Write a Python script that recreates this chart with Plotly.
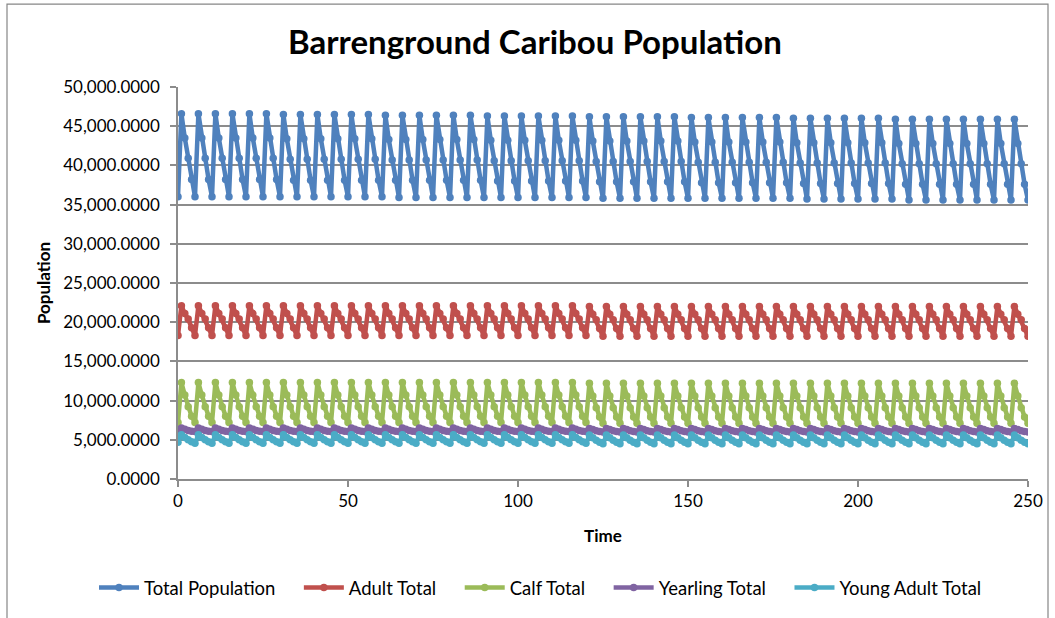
import plotly.graph_objects as go

# ---------------- data ----------------
time = list(range(0, 251))

total_population = [
    36000,
    46600, 43500, 40900, 38200, 36000,  46600, 43500, 40900, 38200, 36000,
    46600, 43500, 40900, 38200, 36000,  46600, 43500, 40900, 38200, 36000,
    46600, 43500, 40900, 38200, 36000,  46600, 43500, 40900, 38200, 36000,
    46500, 43400, 40800, 38100, 36000,  46500, 43400, 40800, 38100, 36000,
    46500, 43400, 40800, 38100, 36000,  46500, 43400, 40800, 38100, 36000,
    46500, 43400, 40800, 38100, 36000,  46500, 43400, 40800, 38100, 36000,
    46400, 43300, 40700, 38100, 35900,  46400, 43300, 40700, 38100, 35900,
    46400, 43300, 40700, 38100, 35900,  46400, 43300, 40700, 38100, 35900,
    46400, 43300, 40700, 38100, 35900,  46400, 43300, 40700, 38100, 35900,
    46300, 43200, 40600, 38000, 35900,  46300, 43200, 40600, 38000, 35900,
    46300, 43200, 40600, 38000, 35900,  46300, 43200, 40600, 38000, 35900,
    46300, 43200, 40600, 38000, 35900,  46300, 43200, 40600, 38000, 35900,
    46200, 43100, 40500, 37900, 35800,  46200, 43100, 40500, 37900, 35800,
    46200, 43100, 40500, 37900, 35800,  46200, 43100, 40500, 37900, 35800,
    46200, 43100, 40500, 37900, 35800,  46200, 43100, 40500, 37900, 35800,
    46100, 43000, 40400, 37800, 35800,  46100, 43000, 40400, 37800, 35800,
    46100, 43000, 40400, 37800, 35800,  46100, 43000, 40400, 37800, 35800,
    46100, 43000, 40400, 37800, 35800,  46100, 43000, 40400, 37800, 35800,
    46000, 42900, 40300, 37700, 35700,  46000, 42900, 40300, 37700, 35700,
    46000, 42900, 40300, 37700, 35700,  46000, 42900, 40300, 37700, 35700,
    46000, 42900, 40300, 37700, 35700,  46000, 42900, 40300, 37700, 35700,
    45900, 42800, 40200, 37600, 35600,  45900, 42800, 40200, 37600, 35600,
    45900, 42800, 40200, 37600, 35600,  45900, 42800, 40200, 37600, 35600,
    45900, 42800, 40200, 37600, 35600,  45900, 42800, 40200, 37600, 35600,
    45900, 42800, 40200, 37600, 35600,  45900, 42800, 40200, 37600, 35600,
]

adult_total = [
    18300,
    22100, 21100, 20400, 19300, 18300,  22100, 21100, 20400, 19300, 18300,
    22100, 21100, 20400, 19300, 18300,  22100, 21100, 20400, 19300, 18300,
    22100, 21100, 20400, 19300, 18300,  22100, 21100, 20400, 19300, 18300,
    22100, 21100, 20400, 19300, 18300,  22100, 21100, 20400, 19300, 18300,
    22100, 21100, 20400, 19300, 18300,  22100, 21100, 20400, 19300, 18300,
    22100, 21100, 20400, 19300, 18300,  22100, 21100, 20400, 19300, 18300,
    22100, 21100, 20400, 19300, 18300,  22100, 21100, 20400, 19300, 18300,
    22100, 21100, 20400, 19300, 18300,  22100, 21100, 20400, 19300, 18300,
    22100, 21100, 20400, 19300, 18300,  22100, 21100, 20400, 19300, 18300,
    22100, 21100, 20400, 19300, 18300,  22100, 21100, 20400, 19300, 18300,
    22100, 21100, 20400, 19300, 18300,  22100, 21100, 20400, 19300, 18300,
    22100, 21100, 20400, 19300, 18300,  22100, 21100, 20400, 19300, 18300,
    22000, 21000, 20300, 19200, 18200,  22000, 21000, 20300, 19200, 18200,
    22000, 21000, 20300, 19200, 18200,  22000, 21000, 20300, 19200, 18200,
    22000, 21000, 20300, 19200, 18200,  22000, 21000, 20300, 19200, 18200,
    22000, 21000, 20300, 19200, 18200,  22000, 21000, 20300, 19200, 18200,
    22000, 21000, 20300, 19200, 18200,  22000, 21000, 20300, 19200, 18200,
    22000, 21000, 20300, 19200, 18200,  22000, 21000, 20300, 19200, 18200,
    22000, 21000, 20300, 19200, 18200,  22000, 21000, 20300, 19200, 18200,
    22000, 21000, 20300, 19200, 18200,  22000, 21000, 20300, 19200, 18200,
    22000, 21000, 20300, 19200, 18200,  22000, 21000, 20300, 19200, 18200,
    22000, 21000, 20300, 19200, 18200,  22000, 21000, 20300, 19200, 18200,
    22000, 21000, 20300, 19200, 18200,  22000, 21000, 20300, 19200, 18200,
    22000, 21000, 20300, 19200, 18200,  22000, 21000, 20300, 19200, 18200,
    22000, 21000, 20300, 19200, 18200,  22000, 21000, 20300, 19200, 18200,
]

calf_total = [
    7200,
    12300, 10700, 9200, 8000, 7200,  12300, 10700, 9200, 8000, 7200,
    12300, 10700, 9200, 8000, 7200,  12300, 10700, 9200, 8000, 7200,
    12300, 10700, 9200, 8000, 7200,  12300, 10700, 9200, 8000, 7200,
    12300, 10700, 9200, 8000, 7200,  12300, 10700, 9200, 8000, 7200,
    12300, 10700, 9200, 8000, 7200,  12300, 10700, 9200, 8000, 7200,
    12300, 10700, 9200, 8000, 7200,  12300, 10700, 9200, 8000, 7200,
    12300, 10700, 9200, 8000, 7200,  12300, 10700, 9200, 8000, 7200,
    12300, 10700, 9200, 8000, 7200,  12300, 10700, 9200, 8000, 7200,
    12300, 10700, 9200, 8000, 7200,  12300, 10700, 9200, 8000, 7200,
    12300, 10700, 9200, 8000, 7200,  12300, 10700, 9200, 8000, 7200,
    12300, 10700, 9200, 8000, 7200,  12300, 10700, 9200, 8000, 7200,
    12300, 10700, 9200, 8000, 7200,  12300, 10700, 9200, 8000, 7200,
    12200, 10600, 9100, 7900, 7100,  12200, 10600, 9100, 7900, 7100,
    12200, 10600, 9100, 7900, 7100,  12200, 10600, 9100, 7900, 7100,
    12200, 10600, 9100, 7900, 7100,  12200, 10600, 9100, 7900, 7100,
    12200, 10600, 9100, 7900, 7100,  12200, 10600, 9100, 7900, 7100,
    12200, 10600, 9100, 7900, 7100,  12200, 10600, 9100, 7900, 7100,
    12200, 10600, 9100, 7900, 7100,  12200, 10600, 9100, 7900, 7100,
    12200, 10600, 9100, 7900, 7100,  12200, 10600, 9100, 7900, 7100,
    12200, 10600, 9100, 7900, 7100,  12200, 10600, 9100, 7900, 7100,
    12200, 10600, 9100, 7900, 7100,  12200, 10600, 9100, 7900, 7100,
    12200, 10600, 9100, 7900, 7100,  12200, 10600, 9100, 7900, 7100,
    12200, 10600, 9100, 7900, 7100,  12200, 10600, 9100, 7900, 7100,
    12200, 10600, 9100, 7900, 7100,  12200, 10600, 9100, 7900, 7100,
    12200, 10600, 9100, 7900, 7100,  12200, 10600, 9100, 7900, 7100,
]

yearling_total = [
    6100,
    6500, 6350, 6200, 6100, 6050,  6500, 6350, 6200, 6100, 6050,
    6500, 6350, 6200, 6100, 6050,  6500, 6350, 6200, 6100, 6050,
    6500, 6350, 6200, 6100, 6050,  6500, 6350, 6200, 6100, 6050,
    6500, 6350, 6200, 6100, 6050,  6500, 6350, 6200, 6100, 6050,
    6500, 6350, 6200, 6100, 6050,  6500, 6350, 6200, 6100, 6050,
    6500, 6350, 6200, 6100, 6050,  6500, 6350, 6200, 6100, 6050,
    6500, 6350, 6200, 6100, 6050,  6500, 6350, 6200, 6100, 6050,
    6500, 6350, 6200, 6100, 6050,  6500, 6350, 6200, 6100, 6050,
    6500, 6350, 6200, 6100, 6050,  6500, 6350, 6200, 6100, 6050,
    6500, 6350, 6200, 6100, 6050,  6500, 6350, 6200, 6100, 6050,
    6500, 6350, 6200, 6100, 6050,  6500, 6350, 6200, 6100, 6050,
    6500, 6350, 6200, 6100, 6050,  6500, 6350, 6200, 6100, 6050,
    6450, 6300, 6150, 6050, 6000,  6450, 6300, 6150, 6050, 6000,
    6450, 6300, 6150, 6050, 6000,  6450, 6300, 6150, 6050, 6000,
    6450, 6300, 6150, 6050, 6000,  6450, 6300, 6150, 6050, 6000,
    6450, 6300, 6150, 6050, 6000,  6450, 6300, 6150, 6050, 6000,
    6450, 6300, 6150, 6050, 6000,  6450, 6300, 6150, 6050, 6000,
    6450, 6300, 6150, 6050, 6000,  6450, 6300, 6150, 6050, 6000,
    6450, 6300, 6150, 6050, 6000,  6450, 6300, 6150, 6050, 6000,
    6450, 6300, 6150, 6050, 6000,  6450, 6300, 6150, 6050, 6000,
    6450, 6300, 6150, 6050, 6000,  6450, 6300, 6150, 6050, 6000,
    6450, 6300, 6150, 6050, 6000,  6450, 6300, 6150, 6050, 6000,
    6450, 6300, 6150, 6050, 6000,  6450, 6300, 6150, 6050, 6000,
    6450, 6300, 6150, 6050, 6000,  6450, 6300, 6150, 6050, 6000,
    6450, 6300, 6150, 6050, 6000,  6450, 6300, 6150, 6050, 6000,
]

young_adult_total = [
    4700,
    5650, 5300, 5000, 4750, 4550,  5650, 5300, 5000, 4750, 4550,
    5650, 5300, 5000, 4750, 4550,  5650, 5300, 5000, 4750, 4550,
    5650, 5300, 5000, 4750, 4550,  5650, 5300, 5000, 4750, 4550,
    5650, 5300, 5000, 4750, 4550,  5650, 5300, 5000, 4750, 4550,
    5650, 5300, 5000, 4750, 4550,  5650, 5300, 5000, 4750, 4550,
    5650, 5300, 5000, 4750, 4550,  5650, 5300, 5000, 4750, 4550,
    5650, 5300, 5000, 4750, 4550,  5650, 5300, 5000, 4750, 4550,
    5650, 5300, 5000, 4750, 4550,  5650, 5300, 5000, 4750, 4550,
    5650, 5300, 5000, 4750, 4550,  5650, 5300, 5000, 4750, 4550,
    5650, 5300, 5000, 4750, 4550,  5650, 5300, 5000, 4750, 4550,
    5650, 5300, 5000, 4750, 4550,  5650, 5300, 5000, 4750, 4550,
    5650, 5300, 5000, 4750, 4550,  5650, 5300, 5000, 4750, 4550,
    5600, 5250, 4950, 4700, 4500,  5600, 5250, 4950, 4700, 4500,
    5600, 5250, 4950, 4700, 4500,  5600, 5250, 4950, 4700, 4500,
    5600, 5250, 4950, 4700, 4500,  5600, 5250, 4950, 4700, 4500,
    5600, 5250, 4950, 4700, 4500,  5600, 5250, 4950, 4700, 4500,
    5600, 5250, 4950, 4700, 4500,  5600, 5250, 4950, 4700, 4500,
    5600, 5250, 4950, 4700, 4500,  5600, 5250, 4950, 4700, 4500,
    5600, 5250, 4950, 4700, 4500,  5600, 5250, 4950, 4700, 4500,
    5600, 5250, 4950, 4700, 4500,  5600, 5250, 4950, 4700, 4500,
    5600, 5250, 4950, 4700, 4500,  5600, 5250, 4950, 4700, 4500,
    5600, 5250, 4950, 4700, 4500,  5600, 5250, 4950, 4700, 4500,
    5600, 5250, 4950, 4700, 4500,  5600, 5250, 4950, 4700, 4500,
    5600, 5250, 4950, 4700, 4500,  5600, 5250, 4950, 4700, 4500,
    5600, 5250, 4950, 4700, 4500,  5600, 5250, 4950, 4700, 4500,
]

series_names = ["Total Population", "Adult Total", "Calf Total",
                "Yearling Total", "Young Adult Total"]
series_values = [total_population, adult_total, calf_total,
                 yearling_total, young_adult_total]
series_colors = ["#4F81BD", "#C0504D", "#9BBB59", "#8064A2", "#4BACC6"]

y_ticks = [0, 5000, 10000, 15000, 20000, 25000, 30000, 35000, 40000, 45000, 50000]
x_ticks = [0, 50, 100, 150, 200, 250]

FONT = "Lato, 'Open Sans', sans-serif"
GRID = "#8C8C8C"
PAD = "\u2002\u2002"  # extra spacing after each legend entry

fig = go.Figure()
for name, vals, col in zip(series_names, series_values, series_colors):
    fig.add_trace(go.Scatter(
        x=time, y=vals, name=name + PAD, mode="lines+markers",
        line=dict(color=col, width=4.5),
        marker=dict(color=col, size=7.5, symbol="circle"),
    ))

# plot area: x 178..1028, y 87..480
L, R, T, B = 178, 27, 87, 138
W, H = 1055, 618
pw, ph = W - L - R, H - T - B

def px(x):
    return (x - L) / pw

def py(y):
    return (H - B - y) / ph

fig.update_layout(
    width=W, height=H,
    margin=dict(l=L, r=R, t=T, b=B, pad=0),
    paper_bgcolor="white", plot_bgcolor="white",
    font=dict(family=FONT, size=17, color="#000000"),
    title=dict(text="<b>Barrenground Caribou Population</b>",
               xref="container", x=535 / W, xanchor="center",
               yref="container", y=1 - 42 / H, yanchor="middle",
               font=dict(family=FONT, size=33, color="#000000")),
    showlegend=True,
    legend=dict(orientation="h", x=px(94), xanchor="left",
                y=py(588), yanchor="middle",
                font=dict(family=FONT, size=18.5, color="#000000"),
                bgcolor="rgba(0,0,0,0)", itemwidth=40,
                tracegroupgap=0),
    xaxis=dict(
        range=[0, 250], tickvals=x_ticks, ticktext=[str(v) for v in x_ticks],
        showgrid=False, zeroline=False,
        showline=True, linecolor=GRID, linewidth=1.5,
        ticks="outside", ticklen=6, tickcolor=GRID, tickwidth=1.5,
        tickfont=dict(family=FONT, size=17, color="#000000"),
        title=dict(text="<b>Time</b>", standoff=20,
                   font=dict(family=FONT, size=17, color="#000000")),
    ),
    yaxis=dict(
        range=[0, 50000], tickvals=y_ticks, tickformat=",.4f",
        showgrid=True, gridcolor=GRID, gridwidth=1.5, zeroline=False,
        showline=True, linecolor=GRID, linewidth=1.5,
        ticks="outside", ticklen=6, tickcolor=GRID, tickwidth=1.5,
        ticklabelstandoff=7,
        tickfont=dict(family=FONT, size=17, color="#000000"),
        title=dict(text="<b>Population</b>", standoff=8,
                   font=dict(family=FONT, size=17, color="#000000")),
    ),
    shapes=[dict(type="rect", xref="paper", yref="paper",
                 x0=px(7), x1=px(1048), y0=py(640), y1=py(4),
                 line=dict(color="#868686", width=1.2),
                 fillcolor="rgba(0,0,0,0)", layer="below")],
)

fig.write_html("out.html")
